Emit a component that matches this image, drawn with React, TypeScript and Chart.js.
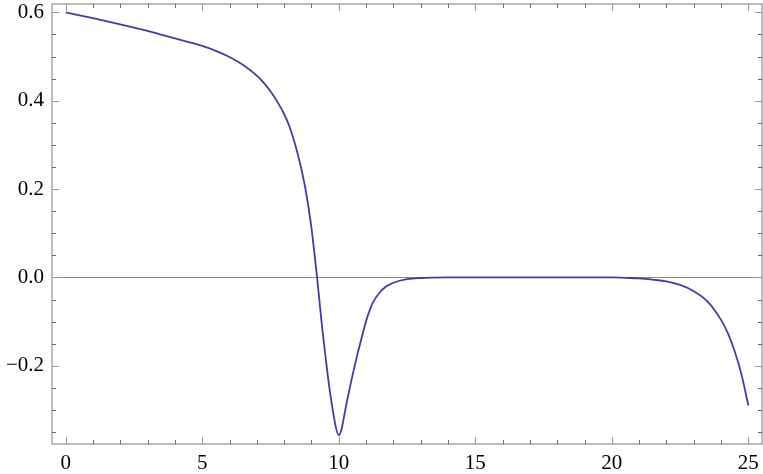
import React, { useEffect, useRef } from "react";
import { Chart, registerables } from "chart.js";

Chart.register(...registerables);

const xValues = [0, 1, 2, 3, 4, 5, 5.5, 6, 6.5, 7, 7.25, 7.5, 7.75, 8, 8.2, 8.4, 8.6, 8.8, 9, 9.1, 9.2, 9.3, 9.4, 9.5, 9.6, 9.7, 9.8, 9.9, 10, 10.1, 10.2, 10.3, 10.4, 10.5, 10.6, 10.7, 10.8, 10.9, 11, 11.1, 11.25, 11.5, 11.75, 12, 12.5, 13, 13.5, 14, 16, 18, 20, 20.5, 21, 21.5, 22, 22.5, 23, 23.5, 24, 24.25, 24.5, 24.75, 25];
const yValues = [0.6, 0.587, 0.573, 0.558, 0.541, 0.524, 0.513, 0.499, 0.481, 0.457, 0.441, 0.4215, 0.398, 0.37, 0.341, 0.302, 0.254, 0.194, 0.113, 0.06, 0.004, -0.057, -0.117, -0.171, -0.222, -0.268, -0.307, -0.341, -0.357, -0.344, -0.313, -0.281, -0.251, -0.223, -0.196, -0.17, -0.146, -0.122, -0.099, -0.08, -0.057, -0.034, -0.02, -0.012, -0.004, -0.0012, -0.0003, 0, 0, 0, 0, -0.001, -0.002, -0.005, -0.009, -0.017, -0.031, -0.054, -0.096, -0.126, -0.167, -0.22, -0.29];

const xMajorTicks = [0, 5, 10, 15, 20, 25];
const xTickLabels = ["0", "5", "10", "15", "20", "25"];
const yMajorTicks = [0.6, 0.4, 0.2, 0.0, -0.2];
const yTickLabels = ["0.6", "0.4", "0.2", "0.0", "\u22120.2"];
const xMinorStep = 1;
const yMinorStep = 0.05;

const X_MIN = -0.5;
const X_MAX = 25.5;
const Y_MIN = -0.377;
const Y_MAX = 0.619;

const FONT_FAMILY = "'Liberation Serif', 'Times New Roman', serif";

const framePlugin = {
  id: "framePlugin",
  beforeDatasetsDraw(chart: any) {
    const { ctx, chartArea, scales } = chart;
    const ys = scales.y;
    ctx.save();
    const y0 = Math.round(ys.getPixelForValue(0)) + 0.5;
    ctx.strokeStyle = "#8a8a8a";
    ctx.lineWidth = 1.2;
    ctx.beginPath();
    ctx.moveTo(chartArea.left, y0);
    ctx.lineTo(chartArea.right, y0);
    ctx.stroke();
    ctx.restore();
  },
  afterDatasetsDraw(chart: any) {
    const { ctx, chartArea, scales } = chart;
    const xs = scales.x;
    const ys = scales.y;
    const { left, right, top, bottom } = chartArea;
    ctx.save();
    ctx.strokeStyle = "#9a9a9a";
    ctx.lineWidth = 1.3;
    ctx.strokeRect(left, top, right - left, bottom - top);
    ctx.lineWidth = 1;
    const majorLen = 7;
    const minorLen = 4;
    for (let i = 0; i <= 25; i++) {
      const v = i * xMinorStep;
      const isMajor = xMajorTicks.some((m) => Math.abs(m - v) < 1e-6);
      const len = isMajor ? majorLen : minorLen;
      const px = Math.round(xs.getPixelForValue(v)) + 0.5;
      ctx.strokeStyle = isMajor ? "#999" : "#666";
      ctx.beginPath();
      ctx.moveTo(px, bottom);
      ctx.lineTo(px, bottom - len);
      ctx.moveTo(px, top);
      ctx.lineTo(px, top + len);
      ctx.stroke();
    }
    for (let i = -7; i <= 12; i++) {
      const v = i * yMinorStep;
      if (v < Y_MIN || v > Y_MAX) continue;
      const isMajor = yMajorTicks.some((m) => Math.abs(m - v) < 1e-6);
      const len = isMajor ? majorLen : minorLen;
      const py = Math.round(ys.getPixelForValue(v)) + 0.5;
      ctx.strokeStyle = isMajor ? "#999" : "#666";
      ctx.beginPath();
      ctx.moveTo(left, py);
      ctx.lineTo(left + len, py);
      ctx.moveTo(right, py);
      ctx.lineTo(right - len, py);
      ctx.stroke();
    }
    ctx.restore();
  },
};

export default function App() {
  const canvasRef = useRef<HTMLCanvasElement | null>(null);

  useEffect(() => {
    if (!canvasRef.current) return;
    const data = xValues.map((x, i) => ({ x, y: yValues[i] }));
    const chart = new Chart(canvasRef.current, {
      type: "line",
      data: {
        datasets: [
          {
            data,
            borderColor: "#3f3fa3",
            borderWidth: 1.8,
            pointRadius: 0,
            fill: false,
            cubicInterpolationMode: "monotone",
          },
        ],
      },
      options: {
        animation: false,
        responsive: false,
        maintainAspectRatio: false,
        layout: { padding: { top: 4, right: 1, left: 0, bottom: 0 } },
        plugins: {
          legend: { display: false },
          tooltip: { enabled: false },
        },
        scales: {
          x: {
            type: "linear",
            min: X_MIN,
            max: X_MAX,
            grid: { display: false, drawTicks: false },
            border: { display: false },
            afterBuildTicks: (scale: any) => {
              scale.ticks = xMajorTicks.map((v) => ({ value: v }));
            },
            afterFit: (scale: any) => {
              scale.height = 30;
              scale.paddingLeft = 0;
              scale.paddingRight = 0;
            },
            ticks: {
              autoSkip: false,
              maxRotation: 0,
              padding: 7,
              color: "#000",
              font: { family: FONT_FAMILY, size: 21 },
              callback: (value: any) => {
                const idx = xMajorTicks.findIndex((m) => Math.abs(m - Number(value)) < 1e-6);
                return idx >= 0 ? xTickLabels[idx] : "";
              },
            },
          },
          y: {
            type: "linear",
            min: Y_MIN,
            max: Y_MAX,
            grid: { display: false, drawTicks: false },
            border: { display: false },
            afterBuildTicks: (scale: any) => {
              scale.ticks = yMajorTicks.map((v) => ({ value: v }));
            },
            afterFit: (scale: any) => {
              scale.width = 52;
              scale.paddingTop = 0;
              scale.paddingBottom = 0;
            },
            ticks: {
              autoSkip: false,
              padding: 8,
              color: "#000",
              font: { family: FONT_FAMILY, size: 21 },
              callback: (value: any) => {
                const idx = yMajorTicks.findIndex((m) => Math.abs(m - Number(value)) < 1e-6);
                return idx >= 0 ? yTickLabels[idx] : "";
              },
            },
          },
        },
      },
      plugins: [framePlugin],
    });
    return () => chart.destroy();
  }, []);

  return (
    <div style={{ position: "fixed", left: 0, top: 0, width: 763, height: 474, background: "#fff" }}>
      <canvas ref={canvasRef} width={763} height={474} style={{ width: 763, height: 474 }} />
    </div>
  );
}
